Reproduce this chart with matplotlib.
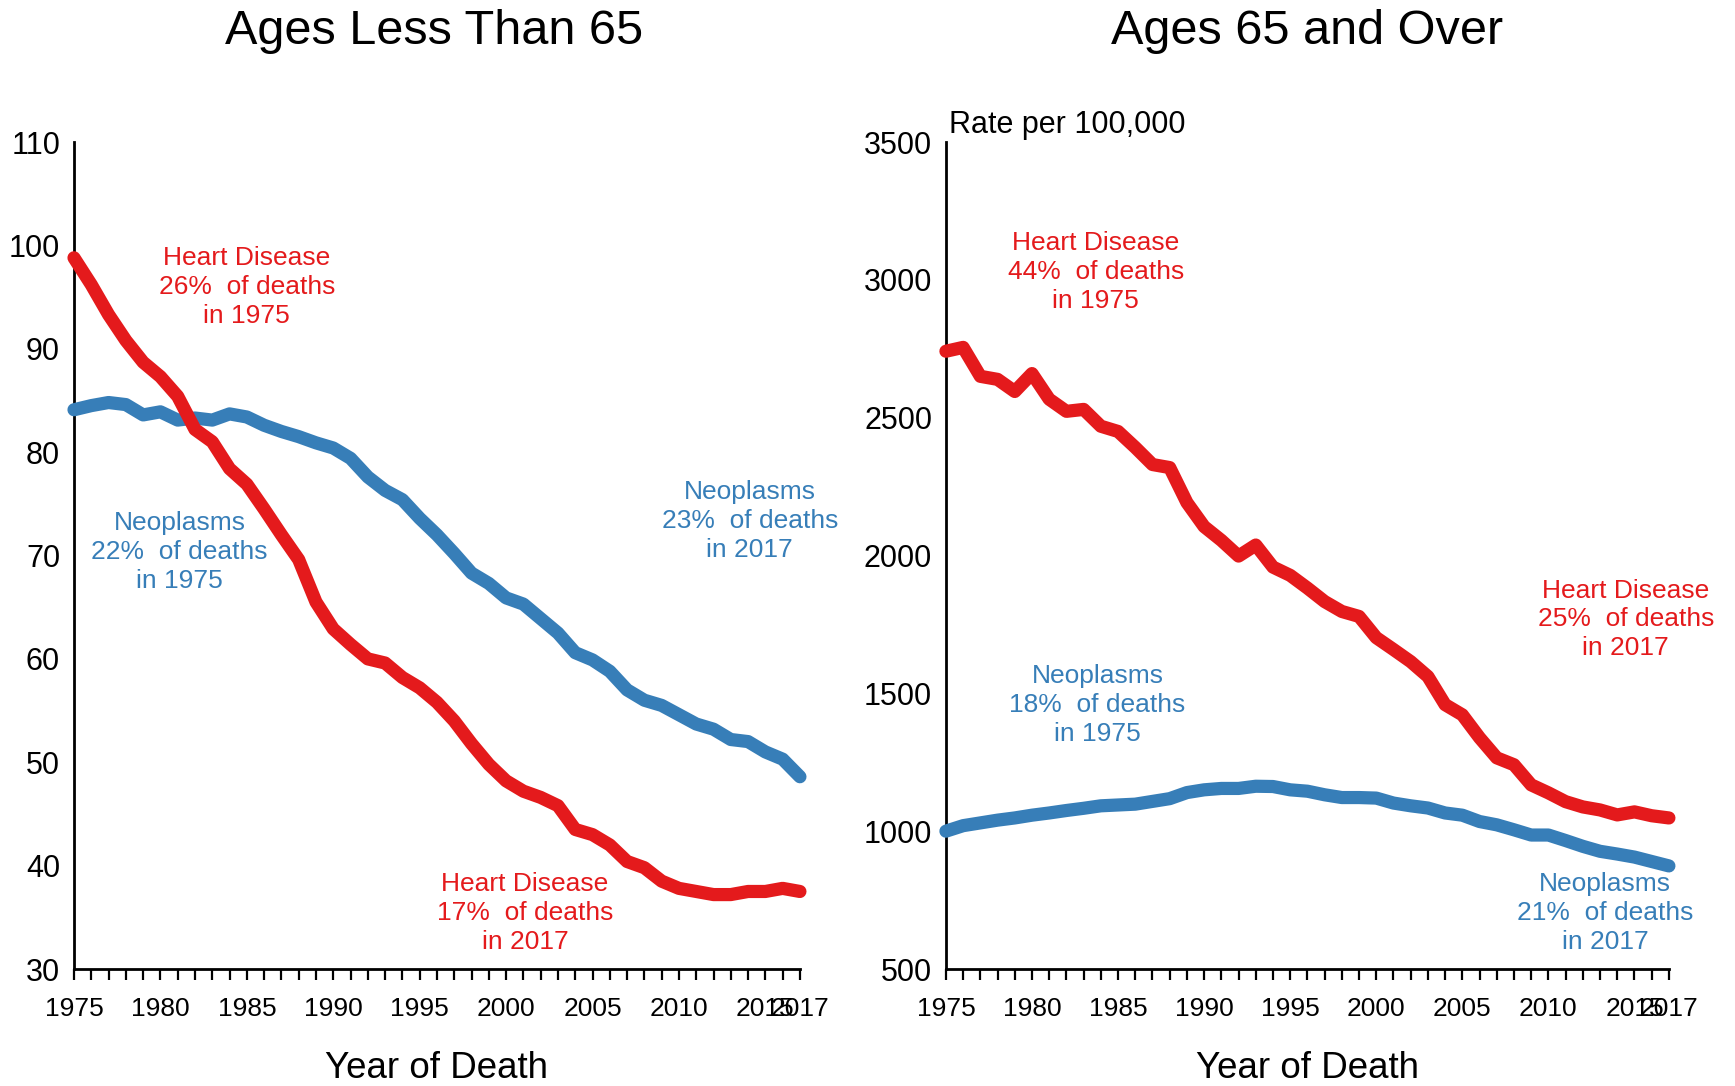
import matplotlib
matplotlib.use("Agg")
import matplotlib.pyplot as plt
from matplotlib import font_manager as fm
import numpy as np

years = list(range(1975, 2018))

# Ages < 65 (rate per 100,000)
young_heart = [98.8, 96.2, 93.3, 90.8, 88.7, 87.3, 85.4, 82.2, 81.0, 78.4,
               76.9, 74.5, 72.0, 69.6, 65.5, 62.9, 61.4, 60.0, 59.6, 58.2,
               57.2, 55.8, 54.0, 51.8, 49.8, 48.2, 47.2, 46.6, 45.8, 43.5,
               43.0, 42.0, 40.4, 39.8, 38.5, 37.8, 37.5, 37.2, 37.2, 37.5,
               37.5, 37.8, 37.5]
young_neo = [84.1, 84.5, 84.8, 84.6, 83.6, 83.9, 83.1, 83.3, 83.1, 83.7,
             83.4, 82.6, 82.0, 81.5, 80.9, 80.4, 79.4, 77.6, 76.3, 75.4,
             73.6, 72.0, 70.2, 68.3, 67.3, 65.9, 65.3, 63.9, 62.5, 60.6,
             59.9, 58.8, 57.0, 56.0, 55.5, 54.6, 53.7, 53.2, 52.2, 52.0,
             51.0, 50.3, 48.6]

# Ages 65+ (rate per 100,000)
old_heart = [2741, 2755, 2650, 2639, 2595, 2660, 2567, 2523, 2530, 2469,
             2450, 2392, 2330, 2319, 2192, 2105, 2055, 1998, 2038, 1958,
             1928, 1882, 1833, 1797, 1779, 1702, 1659, 1615, 1561, 1459,
             1422, 1339, 1266, 1241, 1168, 1139, 1107, 1088, 1077, 1059,
             1070, 1056, 1048]
old_neo = [1000, 1020, 1030, 1040, 1048, 1058, 1066, 1075, 1083, 1092,
           1095, 1098, 1108, 1118, 1140, 1150, 1155, 1155, 1163, 1162,
           1150, 1145, 1132, 1122, 1122, 1120, 1102, 1092, 1084, 1066,
           1058, 1035, 1023, 1005, 986, 986, 966, 945, 927, 917,
           906, 890, 874]

xtick_labels = [1975, 1980, 1985, 1990, 1995, 2000, 2005, 2010, 2015, 2017]
young_yticks = [30, 40, 50, 60, 70, 80, 90, 100, 110]
old_yticks = [500, 1000, 1500, 2000, 2500, 3000, 3500]

RED = "#E41A1C"
BLUE = "#377EB8"

avail = {f.name for f in fm.fontManager.ttflist}
main_font = "Liberation Sans" if "Liberation Sans" in avail else "DejaVu Sans"
narrow_font = "Liberation Sans Narrow" if "Liberation Sans Narrow" in avail else main_font
plt.rcParams["font.family"] = [main_font, "DejaVu Sans"]

fig = plt.figure(figsize=(17.35, 10.86), dpi=100)
axL = fig.add_axes([0.04265, 0.10773, 0.4184, 0.7615])
axR = fig.add_axes([0.5452, 0.10773, 0.4167, 0.7615])

def style(ax, ylim, yticks):
    ax.set_xlim(1975, 2017)
    ax.set_ylim(*ylim)
    for s in ["top", "right"]:
        ax.spines[s].set_visible(False)
    for s in ["left", "bottom"]:
        ax.spines[s].set_linewidth(2.0)
    ax.set_xticks(years, minor=False)
    ax.set_xticklabels([str(y) if y in xtick_labels else "" for y in years],
                       fontfamily=narrow_font, fontsize=19)
    ax.tick_params(axis="x", length=8, width=1.6, direction="out", pad=12)
    ax.set_yticks(yticks)
    ax.set_yticklabels([str(v) for v in yticks], fontsize=22)
    ax.tick_params(axis="y", length=0, pad=10)
    ax.set_xlabel("Year of Death", fontsize=26.5, labelpad=22)

lw = 9.5
axL.plot(years, young_neo, color=BLUE, lw=lw, solid_capstyle="round",
         solid_joinstyle="round", clip_on=False, zorder=3)
axL.plot(years, young_heart, color=RED, lw=lw, solid_capstyle="round",
         solid_joinstyle="round", clip_on=False, zorder=4)
axR.plot(years, old_neo, color=BLUE, lw=lw, solid_capstyle="round",
         solid_joinstyle="round", clip_on=False, zorder=3)
axR.plot(years, old_heart, color=RED, lw=lw, solid_capstyle="round",
         solid_joinstyle="round", clip_on=False, zorder=4)

style(axL, (30, 110), young_yticks)
style(axR, (500, 3500), old_yticks)

fs = 19
kw = dict(ha="center", va="center", fontsize=fs, linespacing=1.26)
axL.text(1985.0, 96.0, "Heart Disease\n26%  of deaths\nin 1975", color=RED, **kw)
axL.text(1981.1, 70.3, "Neoplasms\n22%  of deaths\nin 1975", color=BLUE, **kw)
axL.text(2014.1, 73.3, "Neoplasms\n23%  of deaths\nin 2017", color=BLUE, **kw)
axL.text(2001.1, 35.4, "Heart Disease\n17%  of deaths\nin 2017", color=RED, **kw)

axR.text(1983.7, 3028, "Heart Disease\n44%  of deaths\nin 1975", color=RED, **kw)
axR.text(1983.8, 1459, "Neoplasms\n18%  of deaths\nin 1975", color=BLUE, **kw)
axR.text(2014.5, 1768, "Heart Disease\n25%  of deaths\nin 2017", color=RED, **kw)
axR.text(2013.3, 703, "Neoplasms\n21%  of deaths\nin 2017", color=BLUE, **kw)

fig.text(0.2500, 1 - 32 / 1086, "Ages Less Than 65", ha="center", va="center", fontsize=35)
fig.text(0.7536, 1 - 32 / 1086, "Ages 65 and Over", ha="center", va="center", fontsize=35)
fig.text(949 / 1735, 1 - 125 / 1086, "Rate per 100,000", ha="left", va="center", fontsize=22)

fig.savefig("out.png", dpi=100)
